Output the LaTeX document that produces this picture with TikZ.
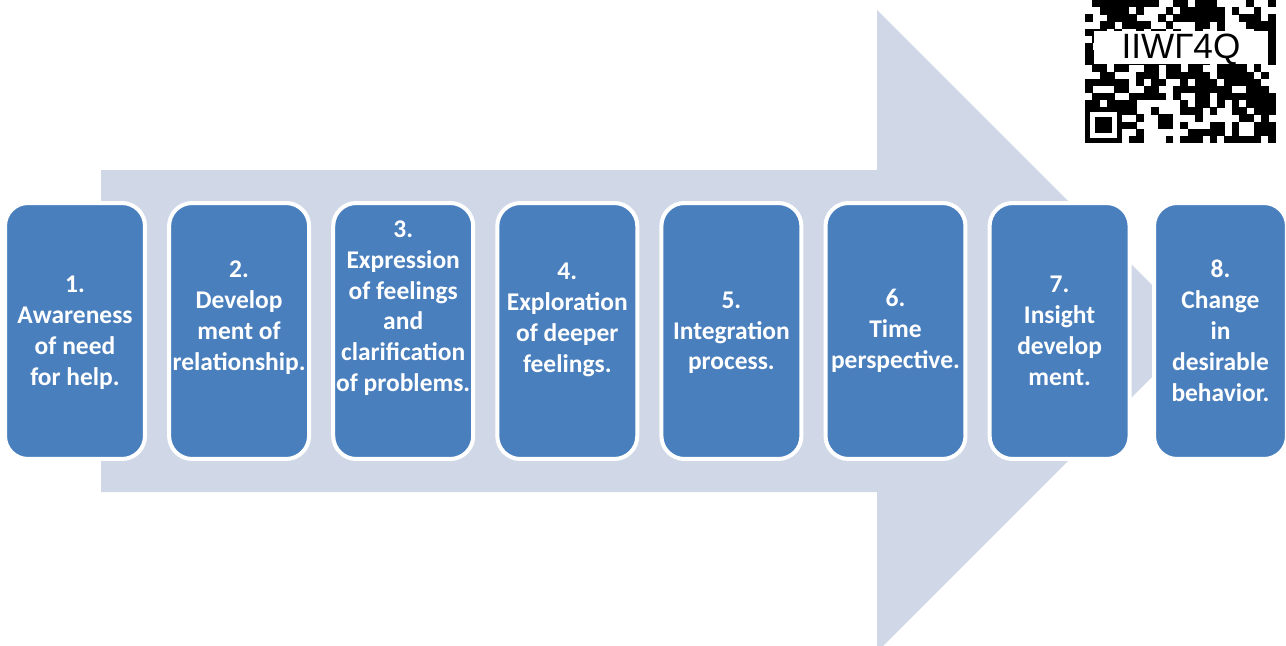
\documentclass[tikz,border=0pt]{standalone}
\usepackage{fontspec}
\setmainfont{Carlito}
\newfontfamily\qrfont{Liberation Sans}
\usepackage{tikz}
\usetikzlibrary{positioning}
\definecolor{stageblue}{HTML}{4A7FBE}
\definecolor{arrowgray}{HTML}{D0D8E8}

\begin{document}
\begin{tikzpicture}[x=0.02cm, y=-0.02cm,
    stage/.style={draw=white, line width=0.08cm, fill=stageblue,
        rounded corners=0.46cm, minimum width=2.8cm, minimum height=5.12cm, inner sep=0pt},
    stagetext/.style={text=white, align=center, inner sep=0pt,
        font=\bfseries\fontsize{14.5}{17.6}\selectfont}]

    \useasboundingbox (0,0) rectangle (1286,646);
    \clip (0,0) rectangle (1286,646);

    % --- Background arrow ---
    \fill[arrowgray] (101,170) -- (877,170) -- (877,10) -- (1198,331)
        -- (877,652) -- (877,492) -- (101,492) -- cycle;

    % --- Stages ---
    \foreach \k/\x in {1/75, 2/239.1, 3/403.2, 4/567.3, 5/731.4, 6/895.5, 7/1059.6}
        \node[stage] (box\k) at (\x,331) {};
    \node[stage, minimum width=2.66cm] (box8) at (1220.5,331) {};

    % Stage texts
    \node[stagetext] (t1) at ([yshift=-1pt]box1.center) {1.\\Awareness\\of need\\for help.};
    \node[stagetext] (t2) at ([yshift=7.5pt]box2.center) {2.\\Develop\\ment of\\relationship.};
    \node[stagetext] (t3) at ([yshift=13pt]box3.center) {3.\\Expression\\of feelings\\and\\clarification\\of problems.};
    \node[stagetext] (t4) at ([yshift=6.5pt]box4.center) {4.\\Exploration\\of deeper\\feelings.};
    \node[stagetext] (t5) at ([yshift=-1pt]box5.center) {5.\\Integration\\process.};
    \node[stagetext] (t6) at (box6.center) {6.\\Time\\perspective.};
    \node[stagetext] (t7) at (box7.center) {7.\\Insight\\develop\\ment.};
    \node[stagetext] (t8) at (box8.center) {8.\\Change\\in\\desirable\\behavior.};

    % --- Code in the corner ---
    \fill[white] (1085,0) rectangle (1276,143);
    \pgfmathsetseed{11}
    \foreach \i in {0,...,25}
        \foreach \j in {0,...,19} {
            \pgfmathtruncatemacro\on{rnd<0.56}
            \ifnum\on=1
                \fill[black] (1085+7.33*\i,7.15*\j) rectangle +(7.6,7.4);
            \fi
        }
    \fill[white] (1094,31) rectangle (1268,64);
    \node[anchor=base, inner sep=0pt, font=\qrfont\fontsize{20}{20}\selectfont] (code) at (1181,58) {IIWГ4Q};
    \fill[black] (1085,107) rectangle (1122,143);
    \fill[white] (1090,112) rectangle (1117,138);
    \fill[black] (1095,117) rectangle (1112,133);

\end{tikzpicture}
\end{document}
